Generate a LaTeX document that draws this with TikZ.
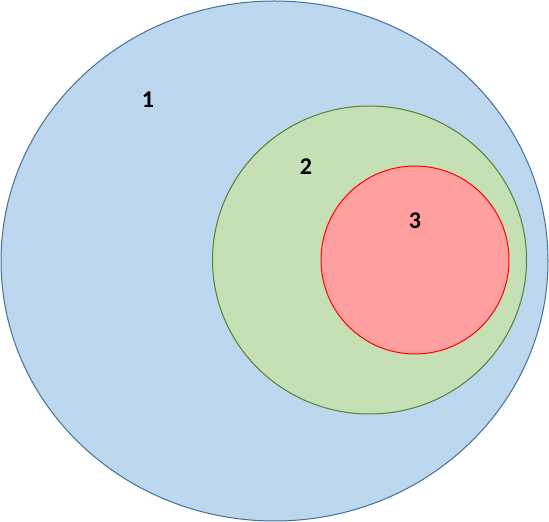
\documentclass[tikz,border=0pt]{standalone}
\usepackage{fontspec}
\setmainfont{Carlito}
\usetikzlibrary{shapes.geometric,positioning}
\definecolor{setblue}{HTML}{BDD7EE}
\definecolor{setblueline}{HTML}{41719C}
\definecolor{setgreen}{HTML}{C5E0B4}
\definecolor{setgreenline}{HTML}{548235}
\definecolor{setred}{HTML}{FF9F9F}
\definecolor{setredline}{HTML}{FF0000}

\begin{document}
\begin{tikzpicture}[
  x=1pt,y=1pt,
  every node/.style={inner sep=0pt},
  region/.style={ellipse,draw,line width=1pt},
  tag/.style={font=\fontsize{24}{28}\selectfont\bfseries},
  ]
  \useasboundingbox (0,0) rectangle (549,522);
  \node[region, fill=setblue, draw=setblueline, minimum width=547pt, minimum height=520pt] (A) at (274.5,261) {};
  \node[region, fill=setgreen, draw=setgreenline, minimum width=314pt, minimum height=308pt] (B) at (369.5,262) {};
  \node[region, fill=setred, draw=setredline, minimum width=188pt, minimum height=188pt] (C) at (415,262) {};
  
  \node[tag] (a) at (148,422) {1};
  \node[tag] (b) at (306,355) {2};
  \node[tag] (c) at (415,301) {3};
  
\end{tikzpicture}
\end{document}
